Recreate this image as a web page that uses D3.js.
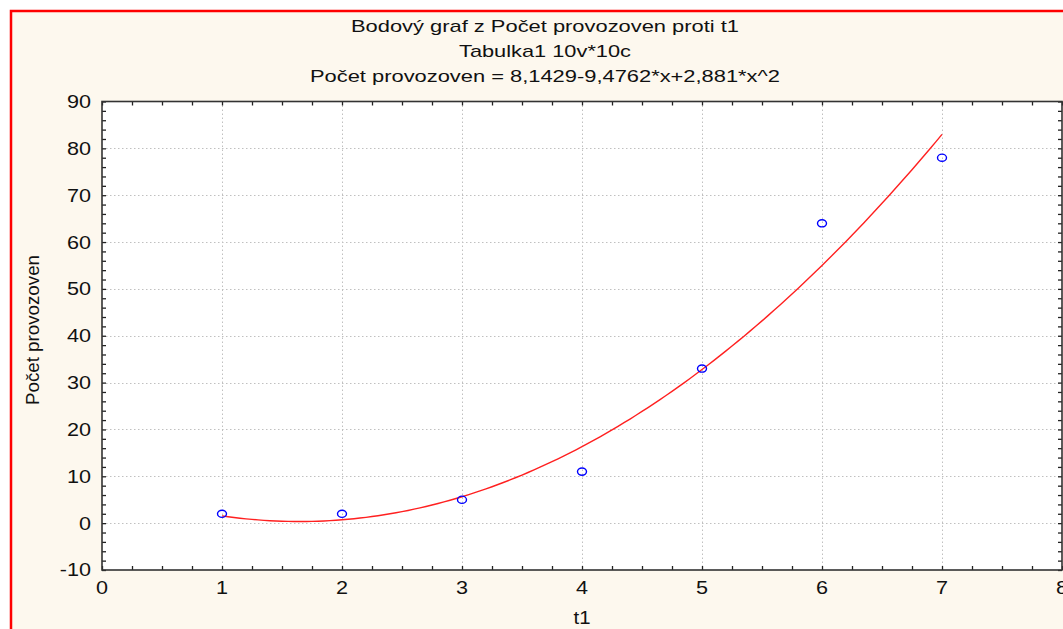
<!DOCTYPE html>
<html><head><meta charset="utf-8">
<script src="https://cdn.jsdelivr.net/npm/d3@7"></script>
<style>html,body{margin:0;padding:0;background:#fff;}svg{display:block;}</style>
</head><body>
<svg id="c" width="1063" height="629"></svg>
<script>
const xValues = [1, 2, 3, 4, 5, 6, 7];
const yValues = [2, 2, 5, 11, 33, 64, 78];
const fitCoefficients = [8.1429, -9.4762, 2.881];
const xTicks = [0, 1, 2, 3, 4, 5, 6, 7, 8];
const yTicks = [-10, 0, 10, 20, 30, 40, 50, 60, 70, 80, 90];
const titleLines = ["Bodový graf z Počet provozoven proti t1", "Tabulka1 10v*10c", "Počet provozoven = 8,1429-9,4762*x+2,881*x^2"];
const xTitle = "t1";
const yTitle = "Počet provozoven";

const svg = d3.select("#c");
const W = 1063, H = 629;
const font = "'Liberation Sans', Arial, sans-serif";

// background + red frame
svg.append("rect").attr("x", 11).attr("y", 11).attr("width", W + 20).attr("height", H + 20)
  .attr("fill", "#fdf8ee").attr("stroke", "#ff0000").attr("stroke-width", 2.5);

const L = 102, R = 1062, T = 101.5, B = 570;
const x = d3.scaleLinear().domain([0, 8]).range([L, R]);
const y = d3.scaleLinear().domain([-10, 90]).range([B, T]);

svg.append("rect").attr("x", L).attr("y", T).attr("width", R - L).attr("height", B - T).attr("fill", "#fff");

// grid
const grid = svg.append("g").attr("stroke", "#c0c0c0").attr("stroke-width", 1).attr("stroke-dasharray", "1.5,2.5");
grid.selectAll("line.gx").data(xTicks.filter(d => d > 0 && d < 8)).join("line")
  .attr("x1", d => Math.round(x(d)) + 0.5).attr("x2", d => Math.round(x(d)) + 0.5).attr("y1", T).attr("y2", B);
grid.selectAll("line.gy").data(yTicks.filter(d => d > -10 && d < 90)).join("line")
  .attr("y1", d => Math.round(y(d)) + 0.5).attr("y2", d => Math.round(y(d)) + 0.5).attr("x1", L).attr("x2", R);

// axes with inward ticks (minor ones included)
const xMinor = d3.range(0, 8.001, 0.25);
const yMinor = d3.range(-10, 90.001, 2);
const tk = 4;
svg.append("g").attr("transform", `translate(0,${B})`)
  .call(d3.axisBottom(x).tickValues(xMinor).tickSize(-tk).tickFormat("").tickSizeOuter(0))
  .call(g => g.select(".domain").remove());
svg.append("g").attr("transform", `translate(0,${T})`)
  .call(d3.axisTop(x).tickValues(xMinor).tickSize(-tk).tickFormat("").tickSizeOuter(0))
  .call(g => g.select(".domain").remove());
svg.append("g").attr("transform", `translate(${L},0)`)
  .call(d3.axisLeft(y).tickValues(yMinor).tickSize(-tk).tickFormat("").tickSizeOuter(0))
  .call(g => g.select(".domain").remove());
svg.append("g").attr("transform", `translate(${R},0)`)
  .call(d3.axisRight(y).tickValues(yMinor).tickSize(-tk).tickFormat("").tickSizeOuter(0))
  .call(g => g.select(".domain").remove());
svg.selectAll(".tick line").attr("stroke", "#222").attr("stroke-width", 1.3);

// frame
svg.append("rect").attr("x", L).attr("y", T).attr("width", R - L).attr("height", B - T)
  .attr("fill", "none").attr("stroke", "#333").attr("stroke-width", 1.6);

// tick labels
svg.append("g").selectAll("text").data(xTicks).join("text")
  .attr("x", d => x(d)).attr("y", 594).attr("text-anchor", "middle")
  .attr("font-family", font).attr("font-size", 18).attr("fill", "#111")
  .attr("transform", d => `translate(${x(d)},0) scale(1.2,1) translate(${-x(d)},0)`)
  .text(d => d);
svg.append("g").selectAll("text").data(yTicks).join("text")
  .attr("x", 91).attr("y", d => y(d) + 6.5).attr("text-anchor", "end")
  .attr("font-family", font).attr("font-size", 18).attr("fill", "#111")
  .attr("transform", `translate(91,0) scale(1.2,1) translate(-91,0)`)
  .text(d => d);

// titles
const titleY = [32, 57, 82], titleW = [388, 172, 470];
svg.append("g").selectAll("text").data(titleLines).join("text")
  .attr("x", 545).attr("y", (d, i) => titleY[i]).attr("text-anchor", "middle")
  .attr("font-family", font).attr("font-size", 17).attr("fill", "#111")
  .attr("textLength", (d, i) => titleW[i]).attr("lengthAdjust", "spacingAndGlyphs")
  .text(d => d);

svg.append("text").attr("x", 582).attr("y", 624).attr("text-anchor", "middle")
  .attr("font-family", font).attr("font-size", 18).attr("fill", "#111")
  .attr("textLength", 17).attr("lengthAdjust", "spacingAndGlyphs").text(xTitle);
svg.append("text").attr("transform", "translate(39,330) rotate(-90)").attr("text-anchor", "middle")
  .attr("font-family", font).attr("font-size", 18).attr("fill", "#111")
  .attr("textLength", 150).attr("lengthAdjust", "spacingAndGlyphs").text(yTitle);

// fitted curve
const fx = v => fitCoefficients[0] + fitCoefficients[1] * v + fitCoefficients[2] * v * v;
const curveX = d3.range(1, 7.0001, 0.05);
svg.append("path").datum(curveX)
  .attr("d", d3.line().x(d => x(d)).y(d => y(fx(d))))
  .attr("fill", "none").attr("stroke", "#ff2020").attr("stroke-width", 1.4);

// points
svg.append("g").selectAll("ellipse").data(xValues).join("ellipse")
  .attr("cx", d => x(d)).attr("cy", (d, i) => y(yValues[i]))
  .attr("rx", 4.5).attr("ry", 3.6)
  .attr("fill", "none").attr("stroke", "#0000ff").attr("stroke-width", 1.4);
</script>
</body></html>
